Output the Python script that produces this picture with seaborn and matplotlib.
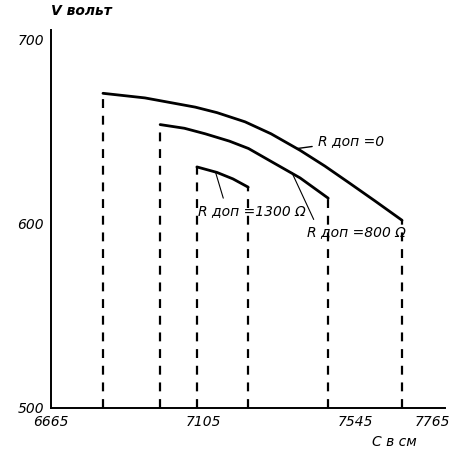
import matplotlib
matplotlib.use('Agg')
import matplotlib.pyplot as plt
import seaborn as sns
import pandas as pd

# curves: C (cm) vs V (volt)
c_r0 = [6815, 6936, 7081, 7144, 7225, 7300, 7384, 7455, 7528, 7600, 7678]
v_r0 = [671, 668.5, 663.5, 660.5, 655.5, 649, 640, 631.5, 622, 612.5, 602]

c_r800 = [6980, 7050, 7110, 7180, 7235, 7300, 7384, 7465]
v_r800 = [654, 652, 649, 645, 641, 634, 625, 614]

c_r1300 = [7086, 7144, 7190, 7234]
v_r1300 = [631, 628, 624.5, 620]

x_ticks = [6665, 7105, 7545, 7765]
y_ticks = [500, 600, 700]

frames = []
for name, c, v in [('0', c_r0, v_r0), ('800', c_r800, v_r800), ('1300', c_r1300, v_r1300)]:
    frames.append(pd.DataFrame({'C': c, 'V': v, 'R': name}))
df = pd.concat(frames, ignore_index=True)

sns.set_style('white')
plt.rcParams['font.family'] = ['DejaVu Sans']
plt.rcParams['text.color'] = 'black'

fig = plt.figure(figsize=(4.49, 4.55), dpi=100)
ax = fig.add_axes([51 / 449, 47 / 455, 394 / 449, 378 / 455])

sns.lineplot(data=df, x='C', y='V', hue='R', palette=['black'] * 3,
             linewidth=2.0, legend=False, ax=ax, sort=False)

# dashed drops from each curve end to the axis
for c, v in [(c_r0, v_r0), (c_r800, v_r800), (c_r1300, v_r1300)]:
    ax.vlines([c[0], c[-1]], 500, [v[0], v[-1]], colors='black',
              linestyles=(0, (4, 3.5)), linewidth=1.6)

ax.set_xlim(6665, 7802)
ax.set_ylim(500, 705.4)
ax.set_xticks(x_ticks)
ax.set_yticks(y_ticks)
ax.set_xticklabels([str(t) for t in x_ticks], fontstyle='italic', fontsize=10)
ax.set_yticklabels([str(t) for t in y_ticks], fontstyle='italic', fontsize=10)
ax.tick_params(axis='both', direction='out', length=3, width=1, colors='black', pad=2)
ax.tick_params(axis='x', length=0, pad=5)
for s in ['top', 'right']:
    ax.spines[s].set_visible(False)
for s in ['left', 'bottom']:
    ax.spines[s].set_color('black')
    ax.spines[s].set_linewidth(1.4)
ax.set_xlabel('')
ax.set_ylabel('')

ax.text(0.0, 1.05, 'V вольт', transform=ax.transAxes, fontstyle='italic',
        fontsize=10, fontweight='bold', ha='left', va='center')
ax.text(0.815, -0.09, 'С в см', transform=ax.transAxes, fontstyle='italic',
        fontsize=10, ha='left', va='center')

ax.annotate('R доп =0', xy=(7376, 641), xytext=(7436, 645),
            fontsize=10, fontstyle='italic', va='center', ha='left',
            arrowprops=dict(arrowstyle='-', color='black', lw=1, shrinkB=0))
ax.annotate('R доп =800 Ω', xy=(7360, 628), xytext=(7545, 595.5),
            fontsize=10, fontstyle='italic', va='center', ha='center',
            arrowprops=dict(arrowstyle='-', color='black', lw=0.8,
                            shrinkB=0, relpos=(0.1, 1)))
ax.annotate('R доп =1300 Ω', xy=(7140, 628), xytext=(7245, 607),
            fontsize=10, fontstyle='italic', va='center', ha='center',
            arrowprops=dict(arrowstyle='-', color='black', lw=0.8,
                            shrinkB=0, relpos=(0.25, 1)))

fig.savefig('out.png', dpi=100)
